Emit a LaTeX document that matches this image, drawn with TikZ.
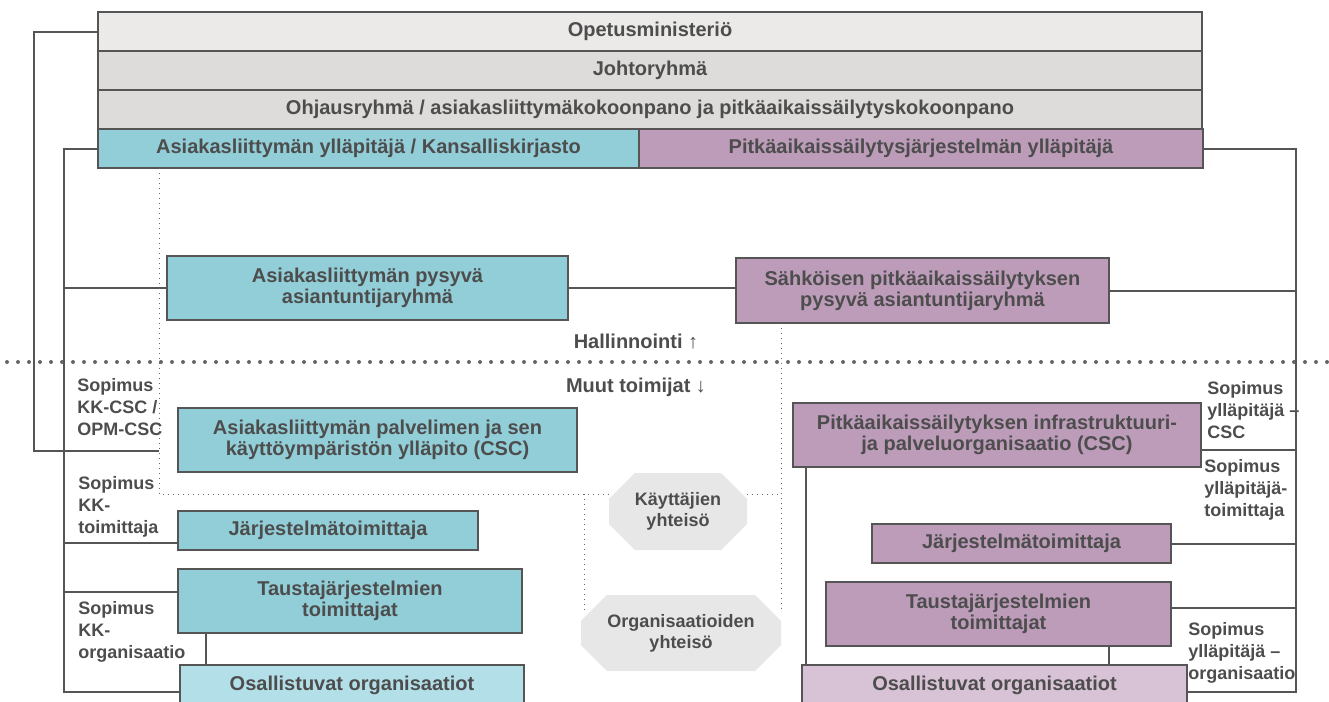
\documentclass[tikz,border=0pt]{standalone}
\usepackage{fontspec}
\setmainfont{Liberation Sans}
\usetikzlibrary{shapes.misc}

\definecolor{txtgray}{HTML}{4D4D4D}
\definecolor{linegray}{HTML}{555555}
\definecolor{dotgray}{HTML}{666666}
\definecolor{palegray}{HTML}{EBEAE9}
\definecolor{bargray}{HTML}{DEDCDA}
\definecolor{cyanfill}{HTML}{92CED8}
\definecolor{palecyan}{HTML}{B3E0E8}
\definecolor{mauvefill}{HTML}{BD9CBA}
\definecolor{palemauve}{HTML}{D8C2D6}
\definecolor{octgray}{HTML}{E7E7E7}

\begin{document}
\begin{tikzpicture}[
    x=0.5pt, y=-0.5pt,
    font=\bfseries\fontsize{10}{10.5}\selectfont,
    text=txtgray,
    box/.style={
        draw=linegray,
        line width=0.75pt,
        rectangle,
        align=center,
        inner sep=0pt,
        outer sep=0pt,
        minimum height=32pt
    },
    bar/.style={box, minimum height=19.5pt},
    topbar/.style={bar, fill=bargray, minimum width=552pt},
    cyanbox/.style={box, fill=cyanfill},
    mauvebox/.style={box, fill=mauvefill},
    community/.style={
        chamfered rectangle,
        chamfered rectangle xsep=10pt,
        fill=octgray,
        align=center,
        inner sep=0pt,
        font=\bfseries\fontsize{9}{10.5}\selectfont
    },
    deal/.style={
        align=left,
        anchor=west,
        inner sep=0pt,
        font=\bfseries\fontsize{9}{11}\selectfont
    },
    link/.style={draw=linegray, line width=1pt},
    trace/.style={draw=dotgray, dotted, line width=0.5pt},
    divider/.style={draw=dotgray, line width=2pt, line cap=round, dash pattern=on 0pt off 5.5pt}
]
\useasboundingbox (0,0) rectangle (1329,702);
\clip (0,0) rectangle (1329,702);

% ===== Divider =====
\coordinate (dl) at (7,362);
\coordinate (dr) at (1329,362);
\draw[divider] (dl) -- (dr);

% ===== Top bars =====
\node[topbar, fill=palegray] (opm)    at (650,31.5)  {Opetusministeriö};
\node[topbar]                (johto)  at (650,70.5)  {Johtoryhmä};
\node[topbar]                (ohjaus) at (650,109.5) {Ohjausryhmä / asiakasliittymäkokoonpano ja pitkäaikaissäilytyskokoonpano};
\node[bar, fill=cyanfill,  minimum width=270.5pt] (asiak) at (368.5,148.5) {Asiakasliittymän ylläpitäjä / Kansalliskirjasto};
\node[bar, fill=mauvefill, minimum width=282pt]   (pitka) at (921,148.5)   {Pitkäaikaissäilytysjärjestelmän ylläpitäjä};

% ===== Expert groups =====
\node[cyanbox,  minimum width=200.5pt] (pysyva) at (367.5,288)  {Asiakasliittymän pysyvä\\asiantuntijaryhmä};
\node[mauvebox, minimum width=186.5pt, minimum height=32.5pt] (sahk) at (922.5,290.5) {Sähköisen pitkäaikaissäilytyksen\\pysyvä asiantuntijaryhmä};

\node (hall) at (636,342) {Hallinnointi \textmd{↑}};
\node (muut) at (636,387) {Muut toimijat \textmd{↓}};

% ===== Left column =====
\node[cyanbox, minimum width=199.5pt] (palv)   at (377.5,440) {Asiakasliittymän palvelimen ja sen\\käyttöympäristön ylläpito (CSC)};
\node[cyanbox, minimum width=150pt, minimum height=19.5pt] (jarjL) at (328,530.5) {Järjestelmätoimittaja};
\node[cyanbox, minimum width=172pt]   (taustL) at (350,601) {Taustajärjestelmien\\toimittajat};
\node[box, fill=palecyan, minimum width=172pt, minimum height=20pt] (osalL) at (352,685) {Osallistuvat organisaatiot};

% ===== Right column =====
\node[mauvebox, minimum width=204pt]   (infra)  at (997,435)    {Pitkäaikaissäilytyksen infrastruktuuri-\\ja palveluorganisaatio (CSC)};
\node[mauvebox, minimum width=149.5pt, minimum height=19.5pt] (jarjR) at (1021.5,543.5) {Järjestelmätoimittaja};
\node[mauvebox, minimum width=172.5pt] (taustR) at (998.5,614)  {Taustajärjestelmien\\toimittajat};
\node[box, fill=palemauve, minimum width=192.5pt, minimum height=20pt] (osalR) at (994.5,685) {Osallistuvat organisaatiot};

% ===== Communities =====
\node[community, minimum width=69pt,  minimum height=38.5pt] (users) at (678,511.5) {Käyttäjien\\yhteisö};
\node[community, minimum width=100pt, minimum height=38pt]   (orgs)  at (681,633)   {Organisaatioiden\\yhteisö};

% ===== Contract labels =====
\node[deal] (sopcsc)  at (77,407)   {Sopimus\\KK-CSC /\\OPM-CSC};
\node[deal] (soptoim) at (78,507)   {Sopimus\\KK-\\toimittaja};
\node[deal] (soporg)  at (78,632)   {Sopimus\\KK-\\organisaatio};
\node[deal] (sopycsc) at (1207,410) {Sopimus\\ylläpitäjä –\\CSC};
\node[deal] (sopytoim) at (1204,490) {Sopimus\\ylläpitäjä-\\toimittaja};
\node[deal] (sopyorg) at (1188,653) {Sopimus\\ylläpitäjä –\\organisaatio};

% ===== Left links =====
\coordinate (cscend) at (159,451);
\draw[link] (opm.west) -- ++(-64,0) |- (cscend);

\coordinate (lbusend) at (64,692);
\coordinate (ljarj)   at (64,543);
\coordinate (ltaust)  at (64,592);
\draw[link] (asiak.west) -| (lbusend) -- (lbusend -| osalL.west);
\draw[link] (lbusend |- pysyva.west) -- (pysyva.west);
\draw[link] (ljarj) -- (ljarj -| jarjL.west);
\draw[link] (ltaust) -- (ltaust -| taustL.west);

\coordinate (lt) at (206,633);
\draw[link] (lt) -- (lt |- osalL.north);

% ===== Middle link =====
\draw[link] (pysyva.east) -- (pysyva.east -| sahk.west);

% ===== Right links =====
\coordinate (rbusend) at (1296,692);
\coordinate (rinfra)  at (1296,450);
\coordinate (rtaust)  at (1296,608);
\draw[link] (pitka.east) -| (rbusend) -- (rbusend -| osalR.east);
\draw[link] (sahk.east) -- (sahk.east -| rbusend);
\draw[link] (rinfra) -- (rinfra -| infra.east);
\draw[link] (jarjR.east) -- (jarjR.east -| rbusend);
\draw[link] (rtaust) -- (rtaust -| taustR.east);

\coordinate (ri) at (806,467);
\draw[link] (ri) -- (ri |- osalR.north);
\coordinate (rt) at (1109,646);
\draw[link] (rt) -- (rt |- osalR.north);

% ===== Dotted traces =====
\coordinate (tcorner) at (159,494);
\coordinate (tdrop)   at (584,494);
\coordinate (tend)    at (584,612);
\coordinate (rtrace)  at (781,612);
\draw[trace] (asiak.south -| tcorner) -- (tcorner) -- (tcorner -| users.west);
\draw[trace] (tdrop) -- (tend);
\draw[trace] (sahk.south -| rtrace) -- (rtrace);
\draw[trace] (users.east |- tcorner) -- (rtrace |- tcorner);

\end{tikzpicture}
\end{document}
